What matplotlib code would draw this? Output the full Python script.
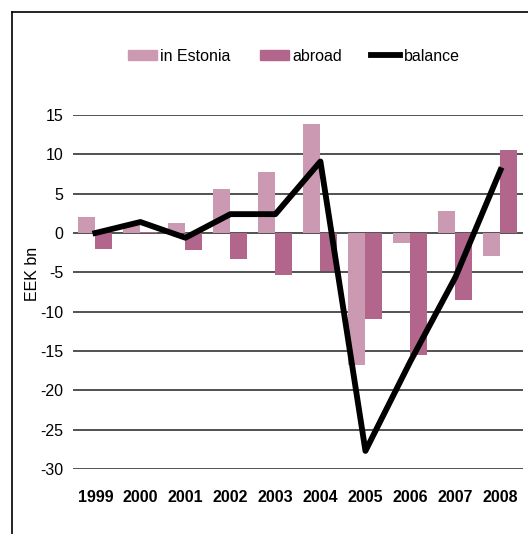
import numpy as np
import matplotlib.pyplot as plt
from matplotlib.lines import Line2D

# values (EEK bn)
years = ['1999', '2000', '2001', '2002', '2003', '2004', '2005', '2006', '2007', '2008']
in_estonia = [2.0, 1.2, 1.3, 5.6, 7.8, 13.8, -16.8, -1.3, 2.8, -2.9]
abroad = [-2.0, 0.1, -2.2, -3.3, -5.4, -4.8, -10.9, -15.5, -8.5, 10.5]
balance = [0.0, 1.4, -0.6, 2.4, 2.4, 9.1, -27.7, -16.3, -5.6, 8.0]

c_est = '#cc99b3'
c_abr = '#b3668c'

plt.rcParams['font.family'] = ['Liberation Sans', 'DejaVu Sans']
plt.rcParams['axes.unicode_minus'] = False

fig = plt.figure(figsize=(5.28, 5.34), dpi=100)
ax = fig.add_axes([0.138, 0.1217, 0.8525, 0.6629])

x = np.arange(len(years))
w = 0.378
ax.bar(x - w / 2, in_estonia, width=w, color=c_est, label='in Estonia', zorder=2)
ax.bar(x + w / 2, abroad, width=w, color=c_abr, label='abroad', zorder=2)
ax.plot(x, balance, color='black', lw=4.2, label='balance', zorder=3)

ax.set_xlim(-0.5, len(years) - 0.5)
ax.set_ylim(-30, 15)
ax.set_yticks(range(-30, 16, 5))
ax.set_xticks(x)
ax.set_xticklabels(years, fontweight='bold', fontsize=11.5)
ax.tick_params(axis='y', labelsize=11.5, length=0, pad=7)
ax.tick_params(axis='x', length=0, pad=15)
for s in ax.spines.values():
    s.set_visible(False)
ax.grid(axis='y', color='#222222', lw=1.1, zorder=1)
ax.set_axisbelow(True)
ax.set_ylabel('EEK bn', fontsize=11.5)
ax.yaxis.set_label_coords(-0.074, 0.551)

handles = [plt.Rectangle((0, 0), 1, 1, color=c_est),
           plt.Rectangle((0, 0), 1, 1, color=c_abr),
           Line2D([0], [0], color='black', lw=4.2)]
fig.legend(handles, ['in Estonia', 'abroad', 'balance'], loc='center',
           bbox_to_anchor=(0.556, 0.895), ncol=3, frameon=False, fontsize=11.5,
           handlelength=1.85, handleheight=0.65, handletextpad=0.2,
           columnspacing=1.8)

# outer frame (left and top edges)
fig.add_artist(Line2D([12 / 528, 12 / 528], [0, 1 - 12 / 534], color='black',
                      lw=1.2, transform=fig.transFigure))
fig.add_artist(Line2D([12 / 528, 1], [1 - 12 / 534, 1 - 12 / 534], color='black',
                      lw=1.2, transform=fig.transFigure))

fig.savefig('out.png', dpi=100)
